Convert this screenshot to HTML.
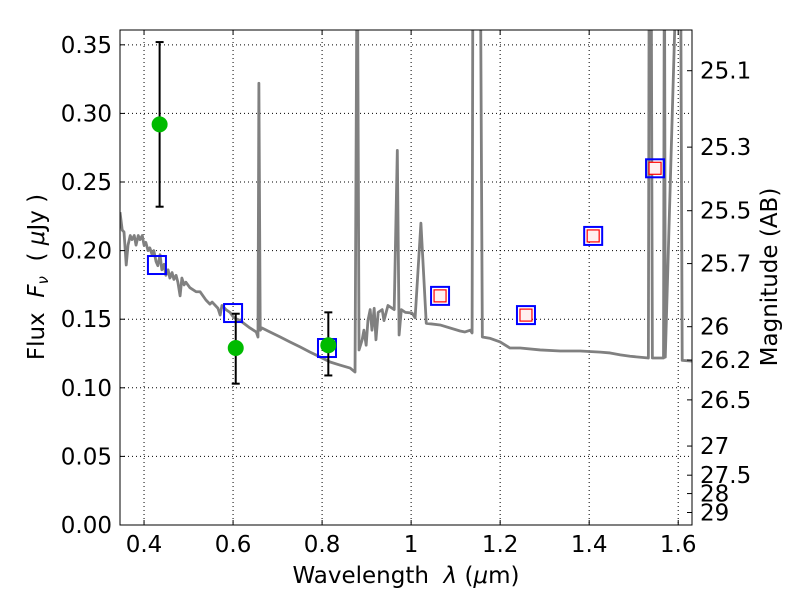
<!DOCTYPE html>
<html><head><meta charset="utf-8"><style>
body{margin:0;background:#fff}
svg text{font-family:"DejaVu Sans","Liberation Sans",sans-serif;fill:#000}
</style></head><body>
<svg id="chart" width="800" height="600" xmlns="http://www.w3.org/2000/svg">
<defs><clipPath id="clip"><rect x="120" y="30" width="572" height="495"/></clipPath></defs>
<g id="grid"></g>
<g id="spec" clip-path="url(#clip)"></g>
<g id="marks" clip-path="url(#clip)"></g>
<rect x="120" y="30" width="572" height="495" fill="none" stroke="#000" stroke-width="1"/>
<g id="axes"></g>
<text x="406" y="583" text-anchor="middle" font-size="23" xml:space="preserve">Wavelength  <tspan font-style="italic">λ</tspan> (<tspan font-style="italic">μ</tspan>m)</text>
<text transform="translate(44,277) rotate(-90)" text-anchor="middle" font-size="23" xml:space="preserve">Flux  <tspan font-style="italic">F</tspan><tspan font-style="italic" font-size="15" dy="4">ν</tspan><tspan dy="-4">  ( </tspan><tspan font-style="italic">μ</tspan>Jy )</text>
<text transform="translate(777,277) rotate(-90)" text-anchor="middle" font-size="23">Magnitude (AB)</text>
</svg>
<script>
const specLam=[0.346,0.351,0.355,0.360,0.364,0.369,0.373,0.378,0.382,0.387,0.391,0.396,0.400,0.404,0.409,0.413,0.418,0.422,0.427,0.431,0.436,0.440,0.445,0.449,0.454,0.458,0.463,0.467,0.472,0.476,0.481,0.485,0.490,0.494,0.503,0.517,0.526,0.539,0.548,0.553,0.566,0.571,0.575,0.584,0.593,0.602,0.616,0.638,0.652,0.656,0.658,0.661,0.665,0.683,0.706,0.728,0.751,0.773,0.796,0.818,0.840,0.863,0.874,0.879,0.883,0.890,0.894,0.899,0.903,0.908,0.912,0.917,0.921,0.926,0.935,0.939,0.948,0.962,0.969,0.973,0.978,0.987,1.002,1.009,1.022,1.034,1.065,1.110,1.121,1.133,1.137,1.139,1.155,1.160,1.178,1.200,1.222,1.245,1.290,1.335,1.380,1.425,1.447,1.470,1.492,1.533,1.535,1.539,1.542,1.567,1.569,1.571,1.600,1.605,1.609,1.631];
const specFlux=[0.228,0.215,0.2135,0.1895,0.204,0.211,0.208,0.211,0.204,0.211,0.208,0.211,0.204,0.206,0.200,0.202,0.197,0.200,0.192,0.189,0.197,0.186,0.190,0.182,0.186,0.180,0.184,0.179,0.182,0.177,0.167,0.180,0.175,0.177,0.173,0.170,0.170,0.164,0.161,0.1625,0.158,0.153,0.160,0.157,0.155,0.151,0.149,0.1436,0.1407,0.137,0.322,0.142,0.1436,0.1407,0.137,0.1334,0.1297,0.126,0.1224,0.1188,0.1166,0.1144,0.1115,0.45,0.1276,0.135,0.142,0.131,0.149,0.157,0.142,0.158,0.135,0.155,0.157,0.149,0.160,0.157,0.273,0.1385,0.157,0.155,0.1545,0.151,0.220,0.147,0.1458,0.1414,0.1407,0.142,0.140,0.45,0.45,0.137,0.136,0.1334,0.129,0.129,0.1276,0.1268,0.1268,0.126,0.1254,0.124,0.123,0.1217,0.45,0.45,0.1217,0.1217,0.45,0.1224,0.45,0.45,0.120,0.1195];
const obsLam=[0.435,0.606,0.814];
const obsFlux=[0.292,0.129,0.131];
const obsLo=[0.232,0.103,0.109];
const obsHi=[0.352,0.154,0.155];
const modLam=[0.429,0.600,0.811,1.065,1.258,1.409,1.548];
const modFlux=[0.1895,0.1545,0.129,0.167,0.153,0.2107,0.260];
const redLam=[1.065,1.258,1.409,1.548];
const redFlux=[0.167,0.153,0.2107,0.260];
const xTicks=[0.4,0.6,0.8,1.0,1.2,1.4,1.6];
const xTickLabels=["0.4","0.6","0.8","1","1.2","1.4","1.6"];
const yTicks=[0,0.05,0.10,0.15,0.20,0.25,0.30,0.35];
const yTickLabels=["0.00","0.05","0.10","0.15","0.20","0.25","0.30","0.35"];
const magTicks=[25.1,25.3,25.5,25.7,26,26.2,26.5,27,27.5,28,29];
const magTickLabels=["25.1","25.3","25.5","25.7","26","26.2","26.5","27","27.5","28","29"];

const X0=120,X1=692,Y0=525,Y1=30,LMIN=0.346,LMAX=1.631,FMIN=0,FMAX=0.3608;
const sx=v=>X0+(v-LMIN)/(LMAX-LMIN)*(X1-X0);
const sy=v=>Y0-(v-FMIN)/(FMAX-FMIN)*(Y0-Y1);
const magToFlux=m=>Math.pow(10,(23.9-m)/2.5);
const NS="http://www.w3.org/2000/svg";
function mk(tag,parent,attrs){const e=document.createElementNS(NS,tag);for(const k in attrs)e.setAttribute(k,attrs[k]);parent.appendChild(e);return e;}
const grid=document.getElementById('grid'),axes=document.getElementById('axes'),spec=document.getElementById('spec'),marks=document.getElementById('marks');

xTicks.forEach((t,i)=>{const x=sx(t);
 const g=mk('line',grid,{x1:x,x2:x,y1:Y1,y2:Y0,stroke:'#000','stroke-dasharray':'1,3','stroke-width':1});
 
 
 mk('line',axes,{x1:x,x2:x,y1:Y0,y2:Y0-5,stroke:'#000'});
 mk('line',axes,{x1:x,x2:x,y1:Y1,y2:Y1+5,stroke:'#000'});
 const tx=mk('text',axes,{x:x,y:Y0+27,'text-anchor':'middle','font-size':23});tx.textContent=xTickLabels[i];
 
 
});
yTicks.forEach((t,i)=>{const y=sy(t);
 const g=mk('line',grid,{x1:X0,x2:X1,y1:y,y2:y,stroke:'#000','stroke-dasharray':'1,3','stroke-width':1});
 
 
 mk('line',axes,{x1:X0,x2:X0+5,y1:y,y2:y,stroke:'#000'});
 const tx=mk('text',axes,{x:X0-8,y:y+8,'text-anchor':'end','font-size':23});tx.textContent=yTickLabels[i];
 
 
});
magTicks.forEach((m,i)=>{const y=sy(magToFlux(m));
 mk('line',axes,{x1:X1,x2:X1-5,y1:y,y2:y,stroke:'#000'});
 const tx=mk('text',axes,{x:X1+8,y:y+8,'font-size':23});tx.textContent=magTickLabels[i];
 
 
});
const p=mk('polyline',spec,{points:specLam.map((l,i)=>sx(l)+','+sy(specFlux[i])).join(' '),fill:'none',stroke:'#808080','stroke-width':2.8,'stroke-linejoin':'round'});


modLam.forEach((l,i)=>{const x=sx(l),y=sy(modFlux[i]);
 const r=mk('rect',marks,{x:x-9,y:y-9,width:18,height:18,fill:'none',stroke:'#0000ff','stroke-width':2});
 
 
});
redLam.forEach((l,i)=>{const x=sx(l),y=sy(redFlux[i]);
 const r=mk('rect',marks,{x:x-6,y:y-6,width:12,height:12,fill:'#fff0f0',stroke:'#ff0000','stroke-width':1.2});
 
 
});
obsLam.forEach((l,i)=>{const x=sx(l);
 const yl=sy(obsLo[i]),yh=sy(obsHi[i]);
 const e=mk('line',marks,{x1:x,x2:x,y1:yl,y2:yh,stroke:'#000','stroke-width':2});
 
 
 mk('line',marks,{x1:x-4,x2:x+4,y1:yl,y2:yl,stroke:'#000','stroke-width':2});
 mk('line',marks,{x1:x-4,x2:x+4,y1:yh,y2:yh,stroke:'#000','stroke-width':2});
 const c=mk('circle',marks,{cx:x,cy:sy(obsFlux[i]),r:8,fill:'#00bb00'});
 
 
});
</script>
</body></html>
